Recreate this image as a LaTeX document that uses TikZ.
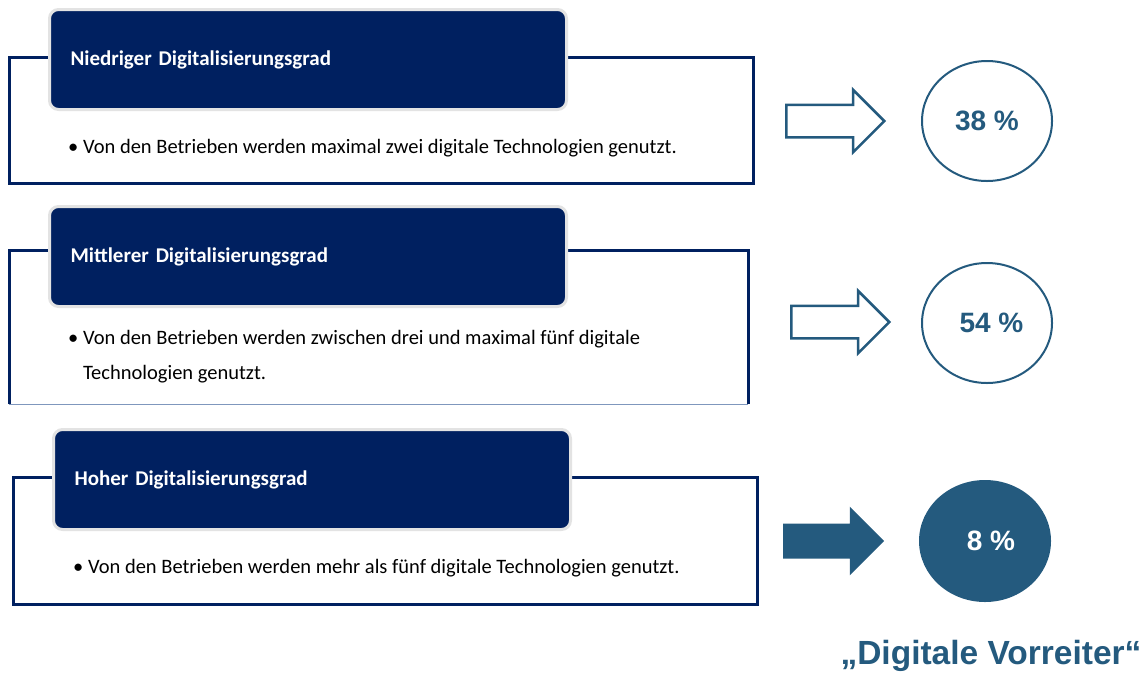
\documentclass[tikz,border=0pt]{standalone}
\usepackage{fontspec}
\setmainfont{Carlito}
\newfontfamily\arialfont{Liberation Sans}
\usetikzlibrary{shapes.geometric, shapes.arrows}

\definecolor{navy}{HTML}{002060}
\definecolor{steel}{HTML}{245A7E}
\definecolor{thinline}{HTML}{7F97BD}

\tikzset{
	frame/.style={draw=navy, line width=3pt},
	hdr/.style={rectangle, rounded corners=9pt, fill=navy, draw=gray!22, line width=3pt, anchor=north west,
		text width=475pt, inner xsep=21pt, minimum height=100pt, align=left, text=white,
		font=\fontsize{21}{24}\selectfont\bfseries},
	bullet/.style={anchor=west, align=left, inner sep=0pt, font=\fontsize{20.5}{35}\selectfont},
	blockarrow/.style={single arrow, draw=steel, line width=2.5pt, minimum height=98pt, minimum width=60pt,
		single arrow head extend=15pt, inner xsep=0pt, inner ysep=15pt, anchor=west},
	pct/.style={ellipse, draw=steel, line width=2pt, minimum width=130pt, minimum height=120pt,
		text=steel, font=\arialfont\fontsize{28}{30}\selectfont\bfseries}
}

\begin{document}
\begin{tikzpicture}[x=1pt, y=-1pt]
		\useasboundingbox (0,0) rectangle (1145,673);

		% niedriger Grad
		\draw[frame] (9,57) rectangle (753,183);
		\node[hdr] (H1) at (48,8) {Niedriger Digitalisierungsgrad};
		\node[bullet] (T1) at (68,148) {\textbullet\ Von den Betrieben werden maximal zwei digitale Technologien genutzt.};

		% mittlerer Grad
		\draw[frame] (9,404) -- (9,250) -- (748,250) -- (748,404);
		\draw[thinline, line width=1pt] (9,404) -- (748,404);
		\node[hdr] (H2) at (48,205) {Mittlerer Digitalisierungsgrad};
		\node[bullet] (T2) at (68,357) {\textbullet\ Von den Betrieben werden zwischen drei und maximal fünf digitale\\\hphantom{\textbullet\ }Technologien genutzt.};

		% hoher Grad
		\draw[frame] (13,477) rectangle (757,604);
		\node[hdr] (H3) at (52,428) {Hoher Digitalisierungsgrad};
		\node[bullet] (T3) at (73,568) {\textbullet\ Von den Betrieben werden mehr als fünf digitale Technologien genutzt.};

		% Pfeile und Anteile
		\node[blockarrow] (A1) at (785,121) {};
		\node[blockarrow] (A2) at (790,322) {};
		\node[blockarrow, fill=steel] (A3) at (783,541) {};

		\node[pct] (P1) at (987,121) {38 \%};
		\node[pct] (P2) at (987,323) {\hspace{9pt}54 \%};
		\node[pct, fill=steel, text=white] (P3) at (985,541) {\hspace{12pt}8 \%};

		\node[text=steel, font=\arialfont\fontsize{33.5}{36}\selectfont\bfseries] (V) at (991,656) {„Digitale Vorreiter“};
	\end{tikzpicture}
\end{document}
